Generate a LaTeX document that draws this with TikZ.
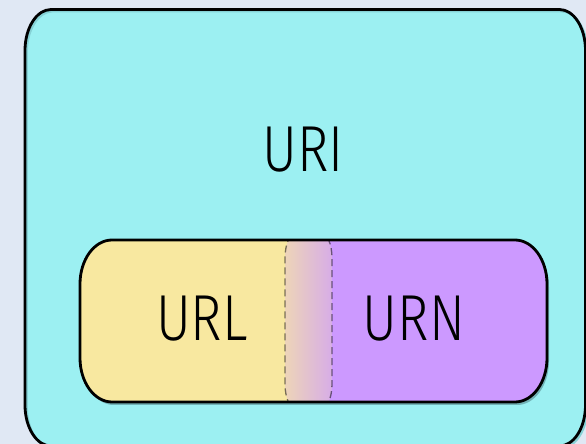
\documentclass[tikz,border=0pt]{standalone}
\usepackage{fontspec}
\newfontfamily\lblfont{Fira Sans Light}
\definecolor{bgc}{HTML}{E0E8F4}
\definecolor{cyanfill}{HTML}{9CF0F2}
\definecolor{tealline}{HTML}{86D2D6}
\definecolor{tealshadow}{HTML}{72B2B6}
\definecolor{yel}{HTML}{F8E8A0}
\definecolor{pur}{HTML}{CC99FF}
% left, right, bottom, top, rx, ry
\newcommand\ellrectpath[6]{(#1+#5,#4) -- (#2-#5,#4) arc[start angle=90,end angle=0,x radius=#5,y radius=#6] -- (#2,#3+#6) arc[start angle=0,end angle=-90,x radius=#5,y radius=#6] -- (#1+#5,#3) arc[start angle=-90,end angle=-180,x radius=#5,y radius=#6] -- (#1,#4-#6) arc[start angle=180,end angle=90,x radius=#5,y radius=#6] -- cycle}
\newcommand\narrow[1]{\scalebox{0.82}[1]{#1}}
\begin{document}
\begin{tikzpicture}[x=1pt,y=1pt,
  lbl/.style={font=\lblfont\fontsize{65}{70}\selectfont, inner sep=0pt, anchor=base},
  border/.style={draw=black, line width=2.8pt},
  dashsep/.style={draw=black, draw opacity=0.5, line width=1.3pt, dash pattern=on 7pt off 4pt}]
\useasboundingbox (0,0) rectangle (586,444);
\fill[bgc] (0,0) rectangle (586,444);
% outer URI box
\fill[cyanfill] \ellrectpath{25}{585.5}{-2}{434.5}{26}{41};
\begin{scope}[shift={(1.8,-1.8)}]
  \draw[tealline, line width=2.2pt] \ellrectpath{25}{585.5}{-2}{434.5}{26}{41};
\end{scope}
\draw[border] \ellrectpath{25}{585.5}{-2}{434.5}{26}{41};
% pill shadow
\begin{scope}[shift={(2,-3)}]
  \fill[tealshadow] \ellrectpath{80}{547}{42}{204}{32}{44};
\end{scope}
% pill interior
\begin{scope}
  \clip \ellrectpath{80}{547}{42}{204}{32}{44};
  \fill[yel] (70,30) rectangle (308.5,215);
  \fill[pur] (308.5,30) rectangle (560,215);
  \begin{scope}
    \clip \ellrectpath{285}{332}{34}{212}{12}{26};
    \shade[left color=yel, right color=pur] (261.5,30) rectangle (355.5,215);
  \end{scope}
  \draw[dashsep] \ellrectpath{285}{332}{34}{212}{12}{26};
\end{scope}
\draw[border] \ellrectpath{80}{547}{42}{204}{32}{44};
% labels
\node[lbl] (uri) at (303,272) {\narrow{URI}};
\node[lbl] (url) at (202,103) {\narrow{URL}};
\node[lbl] (urn) at (414,103) {\narrow{URN}};
\end{tikzpicture}
\end{document}
